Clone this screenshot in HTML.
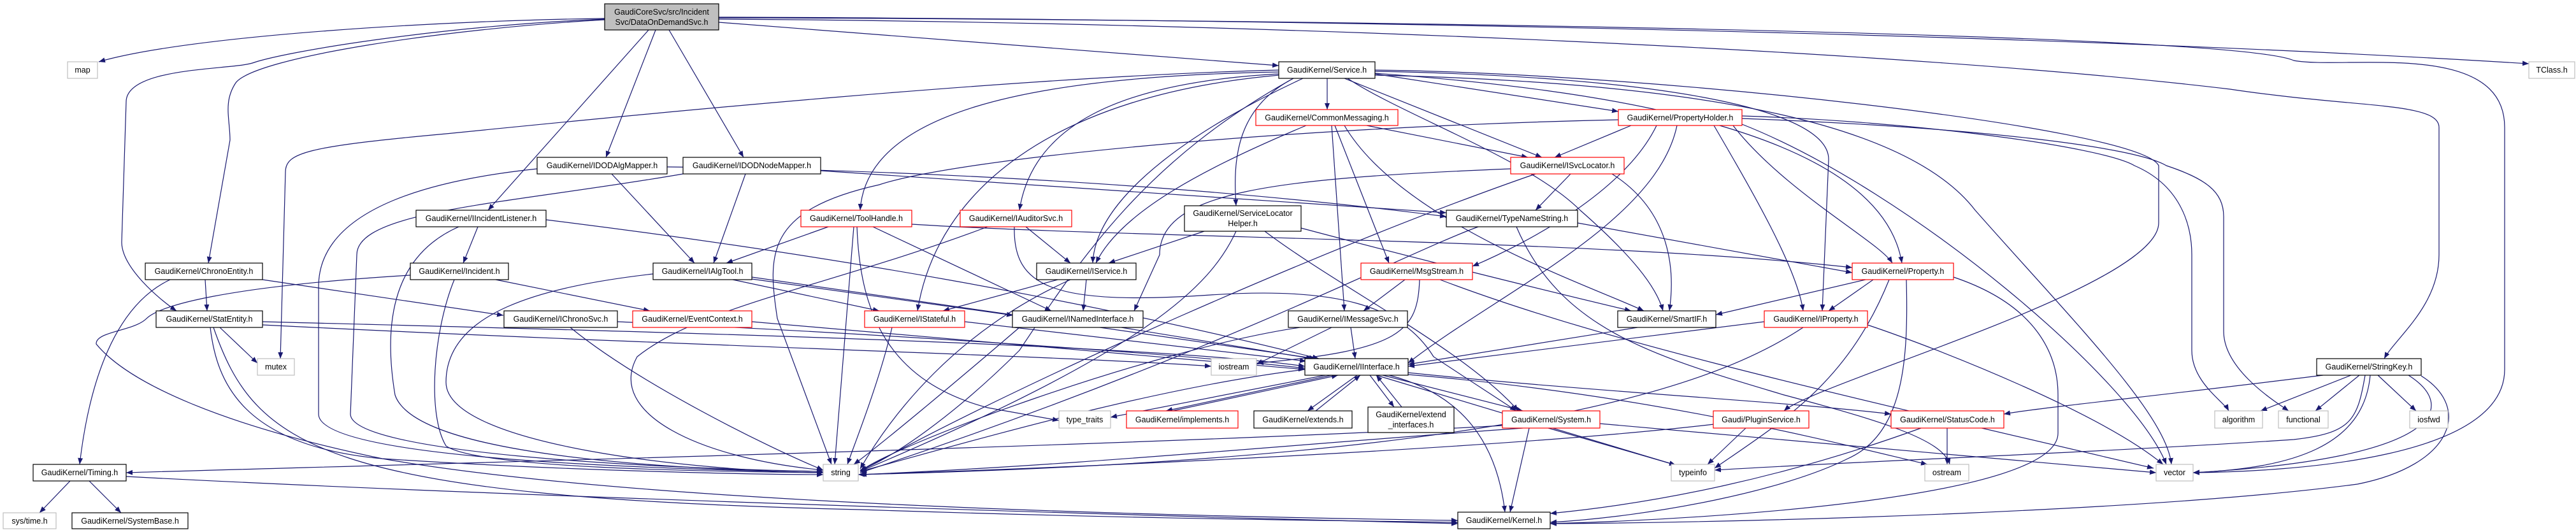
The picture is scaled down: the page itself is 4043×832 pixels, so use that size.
<!DOCTYPE html>
<html><head><meta charset="utf-8"><style>
html,body{margin:0;padding:0;background:#fff}
svg{display:block}
text{font-family:"Liberation Sans",Arial,sans-serif;font-size:12.5px;fill:#000}
.e{fill:none;stroke:#191970;stroke-width:1.2}
.b{fill:#fff;stroke:#000;stroke-width:1.2}
.r{fill:#fff;stroke:#ff0000;stroke-width:1.2}
.g{fill:#fff;stroke:#bfbfbf;stroke-width:1.2}
</style></head><body>
<svg width="4043" height="832" viewBox="0 0 4043 832" xmlns="http://www.w3.org/2000/svg">
<defs><marker id="a" markerUnits="userSpaceOnUse" markerWidth="11" markerHeight="8" refX="10" refY="4" orient="auto"><path d="M0,0 L10,4 L0,8 z" fill="#191970"/></marker></defs>
<g class="e" marker-end="url(#a)">
<path d="M949,29 C700,32 300,55 155,97"/>
<path d="M949,30 C700,40 450,80 396,99 C360,110 198,105 198,160 L191,380 C191,420 250,470 277,488"/>
<path d="M949,31 C700,45 400,90 370,130 C350,160 361,187 361,220 L327,413"/>
<path d="M1018,47 L766,330"/>
<path d="M1029,47 L951,247"/>
<path d="M1050,47 L1167,247"/>
<path d="M1128,35 L2007,103"/>
<path d="M1128,27 C1600,28 3000,40 3969,100"/>
<path d="M1128,28 C2000,30 3500,50 3600,95 C3680,110 3931,60 3931,200 L3931,580 C3931,720 3600,740 3442,742"/>
<path d="M1128,30 C2000,35 3000,80 3500,140 C3700,170 3828,160 3828,200 L3828,400 C3828,480 3760,530 3742,563"/>
<path d="M2007,110 C1600,120 1000,180 700,210 C480,230 448,240 448,270 L440,563"/>
<path d="M2083,123 L2083,172"/>
<path d="M2158,116 L2540,175"/>
<path d="M2110,123 L2420,247"/>
<path d="M2115,123 C2200,180 2400,250 2480,330 C2560,400 2600,450 2610,488"/>
<path d="M2045,123 C1900,190 1720,300 1715,413"/>
<path d="M2007,113 C1600,120 1360,180 1350,330"/>
<path d="M2007,116 C1750,130 1620,200 1600,330"/>
<path d="M2007,118 C1650,150 1470,300 1440,488"/>
<path d="M2030,123 C1940,170 1935,250 1940,323"/>
<path d="M2158,115 C2500,140 2950,200 2985,413"/>
<path d="M2158,112 C2600,120 2870,170 2870,250 L2860,488"/>
<path d="M2158,110 C2600,115 3360,200 3388,260 L3388,350 C3388,450 2850,600 2800,645"/>
<path d="M2158,118 C2700,130 3000,200 3100,330 C3250,500 3400,650 3408,729"/>
<path d="M2030,123 C1800,250 1700,400 1600,550 C1500,650 1400,720 1350,738"/>
<path d="M2050,197 C1900,260 1760,330 1720,413"/>
<path d="M2090,197 L2110,488"/>
<path d="M2095,197 L2180,413"/>
<path d="M2110,197 C2200,350 2500,450 2580,488"/>
<path d="M2145,197 L2398,247"/>
<path d="M2540,188 C2000,200 1500,250 1380,290 C1200,330 1205,400 1220,500 L1305,729"/>
<path d="M2560,197 L2440,247"/>
<path d="M2600,197 C2550,300 2400,380 2311,418"/>
<path d="M2632,197 C2600,350 2350,460 2210,570"/>
<path d="M2690,197 C2750,300 2820,420 2830,488"/>
<path d="M2720,197 C2800,300 2950,380 2970,413"/>
<path d="M2734,182 C3000,190 3300,230 3350,260 C3420,290 3440,350 3440,400 L3440,550 C3440,600 3490,630 3498,645"/>
<path d="M2734,186 C3100,200 3350,230 3400,260 C3460,280 3490,300 3490,340 L3490,520 C3490,580 3570,630 3592,645"/>
<path d="M2734,195 C3000,300 3350,600 3400,729"/>
<path d="M2371,265 C2000,280 1820,300 1820,400 L1780,488"/>
<path d="M2465,273 L2410,330"/>
<path d="M2530,273 C2620,330 2630,420 2620,488"/>
<path d="M2410,273 C2100,380 1600,600 1350,740"/>
<path d="M960,273 L1090,413"/>
<path d="M843,265 C700,280 500,320 500,450 L500,650 C500,720 1000,735 1292,742"/>
<path d="M1047,262 C1300,265 1800,280 2270,340"/>
<path d="M1170,273 L1120,413"/>
<path d="M1072,273 C800,320 560,330 560,400 L550,650 C550,710 1000,735 1292,740"/>
<path d="M1288,268 L2270,334"/>
<path d="M750,356 L727,413"/>
<path d="M720,356 C620,400 600,500 620,620 C650,710 1000,735 1292,742"/>
<path d="M857,345 C1300,400 1700,470 2070,563"/>
<path d="M322,439 L325,488"/>
<path d="M412,439 L790,495"/>
<path d="M267,439 C180,480 140,600 125,729"/>
<path d="M778,439 L1020,488"/>
<path d="M713,439 C680,520 670,650 700,700 C750,735 1100,740 1292,742"/>
<path d="M644,432 C350,450 250,480 230,500 C210,520 150,520 151,540 C200,600 344,667 600,720 C1000,790 1800,810 2288,817"/>
<path d="M1025,430 C850,450 700,490 700,600 C700,700 1100,740 1292,742"/>
<path d="M1180,435 L2065,563"/>
<path d="M1150,439 L1380,488"/>
<path d="M1180,438 L1590,495"/>
<path d="M1300,356 L1140,413"/>
<path d="M1340,356 L1310,729"/>
<path d="M1370,356 L1650,488"/>
<path d="M1345,356 C1350,500 1400,600 1550,640 L1662,660"/>
<path d="M1431,352 C1800,375 2500,375 2907,420"/>
<path d="M1610,356 L1680,413"/>
<path d="M1592,356 C1590,450 1650,480 1900,463 C2100,450 2200,480 2250,560 L2380,645"/>
<path d="M1550,356 C1300,450 1100,480 1000,560 C950,650 1100,720 1292,738"/>
<path d="M1890,363 L1740,413"/>
<path d="M2042,358 C2200,400 2400,450 2560,488"/>
<path d="M1940,363 C1900,450 1800,550 1350,740"/>
<path d="M1985,363 C2100,450 2300,550 2383,645"/>
<path d="M2320,356 C2200,400 1900,560 1350,742"/>
<path d="M2380,356 C2450,520 2600,560 2800,620 C2950,660 3050,690 3060,729"/>
<path d="M2476,350 L2907,428"/>
<path d="M1705,439 L1700,488"/>
<path d="M1660,439 L1480,488"/>
<path d="M1680,439 C1500,520 1400,650 1350,736"/>
<path d="M2205,439 L2140,488"/>
<path d="M2228,439 C2225,520 2200,550 1973,570"/>
<path d="M2260,439 C2500,530 2800,600 3380,735"/>
<path d="M2120,514 L2127,563"/>
<path d="M2090,514 L1972,572"/>
<path d="M2040,514 C1800,550 1400,700 1350,740"/>
<path d="M1514,505 L2050,567"/>
<path d="M1400,514 C1380,600 1340,700 1330,729"/>
<path d="M1760,514 L2060,563"/>
<path d="M1600,514 C1500,600 1380,700 1340,729"/>
<path d="M2570,514 L2210,572"/>
<path d="M2769,505 L2210,575"/>
<path d="M2830,514 C2700,600 2400,720 1347,745"/>
<path d="M2931,510 C3050,550 3300,650 3395,729"/>
<path d="M2940,439 L2870,488"/>
<path d="M2965,439 C2900,600 2800,660 2691,735"/>
<path d="M2992,439 C2995,560 2990,680 2900,720 C2800,770 2600,810 2433,820"/>
<path d="M3066,435 C3200,480 3230,560 3230,620 L3230,680 C3230,780 2700,815 2433,822"/>
<path d="M2928,439 L2693,494"/>
<path d="M2210,585 C2500,615 2800,630 2968,650"/>
<path d="M2170,589 L2390,645"/>
<path d="M2180,589 C2300,620 2350,700 2362,804"/>
<path d="M2160,589 L2630,730"/>
<path d="M2080,589 L1743,655"/>
<path d="M2090,589 L1830,645"/>
<path d="M1840,645 L2100,589"/>
<path d="M2130,589 L2052,645"/>
<path d="M2065,645 L2135,589"/>
<path d="M2150,589 L2188,639"/>
<path d="M2200,639 L2160,589"/>
<path d="M2048,580 C1800,610 1500,700 1350,740"/>
<path d="M2210,588 C2600,620 2900,700 3025,729"/>
<path d="M2358,668 C1800,700 600,730 198,742"/>
<path d="M2390,672 C2000,700 1700,730 1350,745"/>
<path d="M2430,672 L2630,730"/>
<path d="M2400,672 L2370,804"/>
<path d="M2511,665 L3384,742"/>
<path d="M2740,672 L2680,729"/>
<path d="M2690,666 C2400,700 1800,730 1350,745"/>
<path d="M3056,672 L3056,729"/>
<path d="M3015,672 C2800,750 2600,790 2433,806"/>
<path d="M3646,589 C3400,620 3200,640 3145,650"/>
<path d="M3690,589 L3548,645"/>
<path d="M3703,589 L3634,645"/>
<path d="M3732,589 L3792,645"/>
<path d="M3720,589 C3710,700 3600,735 3442,742"/>
<path d="M3780,589 C3860,640 3830,720 3442,742"/>
<path d="M3712,589 C3700,660 3690,680 3600,690 C3300,710 2900,725 2691,738"/>
<path d="M3800,590 C3880,640 3850,730 3700,760 C3400,800 2800,820 2433,822"/>
<path d="M412,505 C1000,520 1800,540 2048,575"/>
<path d="M345,514 L404,570"/>
<path d="M330,514 C340,600 380,700 600,720 C900,740 1200,745 1292,745"/>
<path d="M335,514 C400,700 500,780 1350,800 C1800,815 2100,817 2288,820"/>
<path d="M895,514 C1000,600 1200,700 1292,738"/>
<path d="M969,505 C1300,520 1800,550 2048,578"/>
<path d="M1180,505 L2048,580"/>
<path d="M412,510 C1000,540 1700,560 1901,575"/>
<path d="M110,755 L62,805"/>
<path d="M140,755 L190,805"/>
<path d="M198,748 C800,780 1800,810 2288,822"/>
</g>
<g>
<rect x="949" y="6" width="179" height="41" fill="#bfbfbf" stroke="#000" stroke-width="1.2"/>
<text x="1038.5" y="23" text-anchor="middle">GaudiCoreSvc/src/Incident</text>
<text x="1038.5" y="39" text-anchor="middle">Svc/DataOnDemandSvc.h</text>
<rect class="b" x="1859" y="323" width="183" height="40"/>
<text x="1950.5" y="339" text-anchor="middle">GaudiKernel/ServiceLocator</text>
<text x="1950.5" y="355" text-anchor="middle">Helper.h</text>
<rect class="b" x="2147" y="639" width="135" height="40"/>
<text x="2214.5" y="655" text-anchor="middle">GaudiKernel/extend</text>
<text x="2214.5" y="671" text-anchor="middle">_interfaces.h</text>
</g>
<g text-anchor="middle">
<rect class="g" x="106" y="97" width="47" height="26"/><text x="129.5" y="114">map</text>
<rect class="b" x="2007" y="97" width="151" height="26"/><text x="2082.5" y="114">GaudiKernel/Service.h</text>
<rect class="g" x="3969" y="97" width="72" height="26"/><text x="4005" y="114">TClass.h</text>
<rect class="r" x="1971" y="172" width="223" height="25"/><text x="2082.5" y="189">GaudiKernel/CommonMessaging.h</text>
<rect class="r" x="2540" y="172" width="194" height="25"/><text x="2637" y="189">GaudiKernel/PropertyHolder.h</text>
<rect class="b" x="843" y="247" width="204" height="26"/><text x="945" y="264">GaudiKernel/IDODAlgMapper.h</text>
<rect class="b" x="1072" y="247" width="216" height="26"/><text x="1180" y="264">GaudiKernel/IDODNodeMapper.h</text>
<rect class="r" x="2371" y="247" width="178" height="26"/><text x="2460" y="264">GaudiKernel/ISvcLocator.h</text>
<rect class="b" x="653" y="330" width="204" height="26"/><text x="755" y="347">GaudiKernel/IIncidentListener.h</text>
<rect class="r" x="1257" y="330" width="174" height="26"/><text x="1344" y="347">GaudiKernel/ToolHandle.h</text>
<rect class="r" x="1507" y="330" width="175" height="26"/><text x="1594.5" y="347">GaudiKernel/IAuditorSvc.h</text>
<rect class="b" x="2270" y="330" width="206" height="26"/><text x="2373" y="347">GaudiKernel/TypeNameString.h</text>
<rect class="b" x="228" y="413" width="184" height="26"/><text x="320" y="430">GaudiKernel/ChronoEntity.h</text>
<rect class="b" x="644" y="413" width="154" height="26"/><text x="721" y="430">GaudiKernel/Incident.h</text>
<rect class="b" x="1025" y="413" width="155" height="26"/><text x="1102.5" y="430">GaudiKernel/IAlgTool.h</text>
<rect class="b" x="1627" y="413" width="156" height="26"/><text x="1705" y="430">GaudiKernel/IService.h</text>
<rect class="r" x="2136" y="413" width="175" height="26"/><text x="2223.5" y="430">GaudiKernel/MsgStream.h</text>
<rect class="r" x="2907" y="413" width="159" height="26"/><text x="2986.5" y="430">GaudiKernel/Property.h</text>
<rect class="b" x="245" y="488" width="167" height="26"/><text x="328.5" y="505">GaudiKernel/StatEntity.h</text>
<rect class="b" x="791" y="488" width="178" height="26"/><text x="880" y="505">GaudiKernel/IChronoSvc.h</text>
<rect class="r" x="993" y="488" width="187" height="26"/><text x="1086.5" y="505">GaudiKernel/EventContext.h</text>
<rect class="r" x="1357" y="488" width="157" height="26"/><text x="1435.5" y="505">GaudiKernel/IStateful.h</text>
<rect class="b" x="1589" y="488" width="205" height="26"/><text x="1691.5" y="505">GaudiKernel/INamedInterface.h</text>
<rect class="b" x="2022" y="488" width="187" height="26"/><text x="2115.5" y="505">GaudiKernel/IMessageSvc.h</text>
<rect class="b" x="2539" y="488" width="154" height="26"/><text x="2616" y="505">GaudiKernel/SmartIF.h</text>
<rect class="r" x="2769" y="488" width="162" height="26"/><text x="2850" y="505">GaudiKernel/IProperty.h</text>
<rect class="g" x="404" y="563" width="58" height="26"/><text x="433" y="580">mutex</text>
<rect class="g" x="1901" y="563" width="71" height="26"/><text x="1936.5" y="580">iostream</text>
<rect class="b" x="2048" y="563" width="162" height="26"/><text x="2129" y="580">GaudiKernel/IInterface.h</text>
<rect class="b" x="3636" y="563" width="164" height="26"/><text x="3718" y="580">GaudiKernel/StringKey.h</text>
<rect class="g" x="1662" y="645" width="81" height="27"/><text x="1702.5" y="663">type_traits</text>
<rect class="r" x="1768" y="645" width="175" height="27"/><text x="1855.5" y="663">GaudiKernel/implements.h</text>
<rect class="b" x="1968" y="645" width="154" height="27"/><text x="2045" y="663">GaudiKernel/extends.h</text>
<rect class="r" x="2358" y="645" width="153" height="27"/><text x="2434.5" y="663">GaudiKernel/System.h</text>
<rect class="r" x="2689" y="645" width="150" height="27"/><text x="2764" y="663">Gaudi/PluginService.h</text>
<rect class="r" x="2968" y="645" width="177" height="27"/><text x="3056.5" y="663">GaudiKernel/StatusCode.h</text>
<rect class="g" x="3476" y="645" width="75" height="27"/><text x="3513.5" y="663">algorithm</text>
<rect class="g" x="3576" y="645" width="78" height="27"/><text x="3615" y="663">functional</text>
<rect class="g" x="3782" y="645" width="60" height="27"/><text x="3812" y="663">iosfwd</text>
<rect class="b" x="52" y="729" width="146" height="26"/><text x="125" y="746">GaudiKernel/Timing.h</text>
<rect class="g" x="1292" y="729" width="55" height="26"/><text x="1319.5" y="746">string</text>
<rect class="g" x="2623" y="729" width="68" height="26"/><text x="2657" y="746">typeinfo</text>
<rect class="g" x="3021" y="729" width="69" height="26"/><text x="3055.5" y="746">ostream</text>
<rect class="g" x="3384" y="729" width="58" height="26"/><text x="3413" y="746">vector</text>
<rect class="g" x="5" y="805" width="83" height="25"/><text x="46.5" y="822">sys/time.h</text>
<rect class="b" x="113" y="805" width="182" height="25"/><text x="204" y="822">GaudiKernel/SystemBase.h</text>
<rect class="b" x="2288" y="804" width="145" height="26"/><text x="2360.5" y="821">GaudiKernel/Kernel.h</text>
</g>
</svg>
</body></html>
